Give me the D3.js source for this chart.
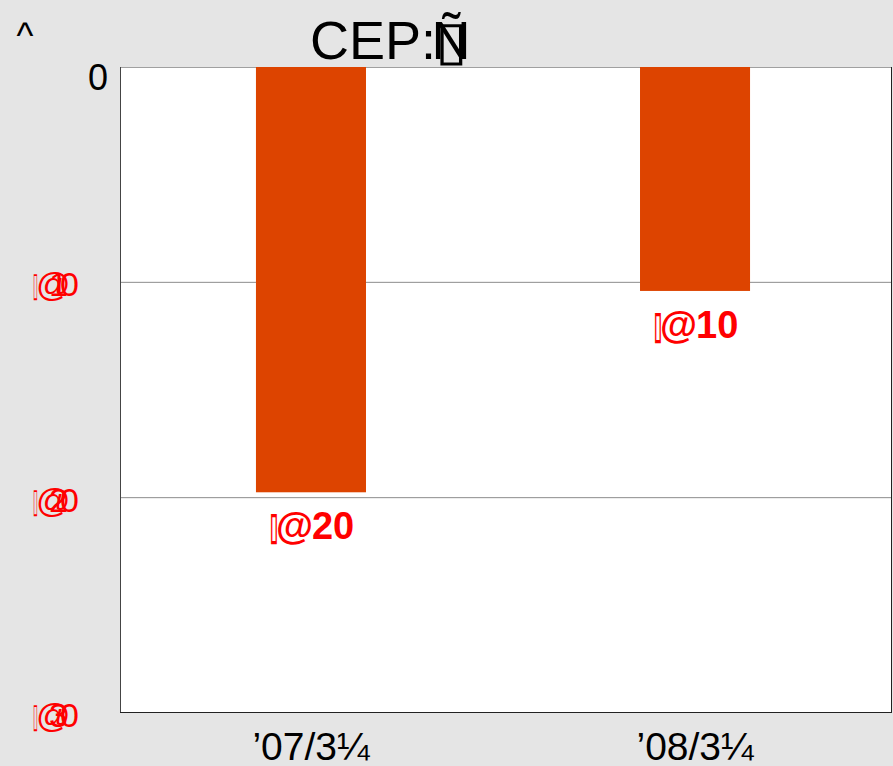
<!DOCTYPE html>
<html>
<head>
    <script src="https://d3js.org/d3.v7.min.js"></script>
    <style>
        body { margin: 0; background: #e5e5e5; }
        text { font-family: "Liberation Sans", Arial, sans-serif; }
    </style>
</head>
<body>
    <div id="chart"></div>
    <script>
        // データ
        const categories = ["\u201907/3\u00bc", "\u201908/3\u00bc"];
        const values = [-19.75, -10.4];
        const barLabels = ["20", "10"];
        const yTicks = [0, -10, -20, -30];
        const yTickLabels = ["0", "10", "20", "30"];
        const titleText = "CEP:";
        const titleTail = "\u00d1";
        const boxChar = "\u25af";
        const yTitle = "^";

        const width = 893, height = 766;
        const margin = {top: 67, right: 1, bottom: 53, left: 120};

        const svg = d3.select("#chart").append("svg")
            .attr("width", width)
            .attr("height", height);

        svg.append("rect")
            .attr("width", width).attr("height", height)
            .attr("fill", "#e5e5e5");

        const x = d3.scaleBand()
            .domain(categories)
            .range([margin.left, 886])
            .paddingInner(0.7135)
            .paddingOuter(0.354);

        const y = d3.scaleLinear()
            .domain([0, -30])
            .range([margin.top, height - margin.bottom]);

        // プロット領域
        svg.append("rect")
            .attr("x", margin.left).attr("y", margin.top)
            .attr("width", width - margin.right - margin.left)
            .attr("height", height - margin.bottom - margin.top)
            .attr("fill", "#fff");

        // グリッド線
        svg.selectAll(".grid")
            .data(yTicks.filter(d => d !== 0 && d !== -30))
            .enter().append("line")
            .attr("x1", margin.left).attr("x2", width - margin.right)
            .attr("y1", d => y(d)).attr("y2", d => y(d))
            .attr("stroke", "#8c8c8c").attr("stroke-width", 1);

        // 枠線
        svg.append("line")
            .attr("x1", margin.left).attr("x2", width - margin.right)
            .attr("y1", margin.top + 0.5).attr("y2", margin.top + 0.5)
            .attr("stroke", "#a0a0a0");
        svg.append("line")
            .attr("x1", margin.left + 0.5).attr("x2", margin.left + 0.5)
            .attr("y1", margin.top).attr("y2", height - margin.bottom)
            .attr("stroke", "#444");
        svg.append("line")
            .attr("x1", width - margin.right - 0.5).attr("x2", width - margin.right - 0.5)
            .attr("y1", margin.top).attr("y2", height - margin.bottom)
            .attr("stroke", "#222");
        svg.append("line")
            .attr("x1", margin.left).attr("x2", width - margin.right)
            .attr("y1", height - margin.bottom - 0.5).attr("y2", height - margin.bottom - 0.5)
            .attr("stroke", "#222");

        // 棒
        svg.selectAll(".bar")
            .data(values)
            .enter().append("rect")
            .attr("x", (d, i) => x(categories[i]))
            .attr("y", d => y(0))
            .attr("width", x.bandwidth())
            .attr("height", d => y(d) - y(0))
            .attr("fill", "#dd4400");

        // 文字化けラベル（箱 + @ + 数字）
        function mojiLabel(x0, y0, size, bold, boxW, atDx, numDx, num, numW) {
            const g = svg.append("g").attr("fill", "#ff0000")
                .attr("font-size", size)
                .attr("font-weight", bold ? "bold" : "normal");
            g.append("text")
                .attr("x", x0).attr("y", y0)
                .attr("textLength", boxW).attr("lengthAdjust", "spacingAndGlyphs")
                .text(boxChar);
            g.append("text")
                .attr("x", x0 + atDx).attr("y", y0)
                .text("@");
            const t = g.append("text")
                .attr("x", x0 + numDx).attr("y", y0)
                .text(num);
            if (numW) t.attr("textLength", numW).attr("lengthAdjust", "spacing");
        }

        values.forEach((d, i) => {
            const cx = x(categories[i]);
            mojiLabel(cx + 14, y(d) + 47, 38, true, 8, 6, 42, barLabels[i]);
        });

        // Y軸ラベル
        yTicks.forEach((d, i) => {
            if (d === 0) {
                svg.append("text")
                    .attr("x", 108).attr("y", y(d) + 23)
                    .attr("text-anchor", "end")
                    .attr("font-size", 36)
                    .attr("fill", "#000")
                    .text(yTickLabels[i]);
            } else {
                mojiLabel(33, y(d) + 14, 34, false, 5, 3, 16, yTickLabels[i], 30);
            }
        });

        // X軸ラベル
        svg.selectAll(".xtick")
            .data(categories)
            .enter().append("text")
            .attr("x", d => x(d) + x.bandwidth() / 2)
            .attr("y", 760)
            .attr("text-anchor", "middle")
            .attr("font-size", 39)
            .attr("fill", "#000")
            .text(d => d);

        // タイトル
        svg.append("text")
            .attr("x", 310).attr("y", 59)
            .attr("font-size", 54)
            .attr("fill", "#000")
            .text(titleText);
        svg.append("text")
            .attr("x", 435).attr("y", 59)
            .attr("font-size", 54)
            .attr("textLength", 33).attr("lengthAdjust", "spacingAndGlyphs")
            .attr("fill", "#000")
            .text(boxChar);
        svg.append("text")
            .attr("x", 451).attr("y", 59)
            .attr("text-anchor", "middle")
            .attr("font-size", 54)
            .attr("fill", "#000")
            .text(titleTail);

        svg.append("text")
            .attr("x", 25).attr("y", 48)
            .attr("text-anchor", "middle")
            .attr("font-size", 36)
            .attr("fill", "#000")
            .text(yTitle);
    </script>
</body>
</html>
